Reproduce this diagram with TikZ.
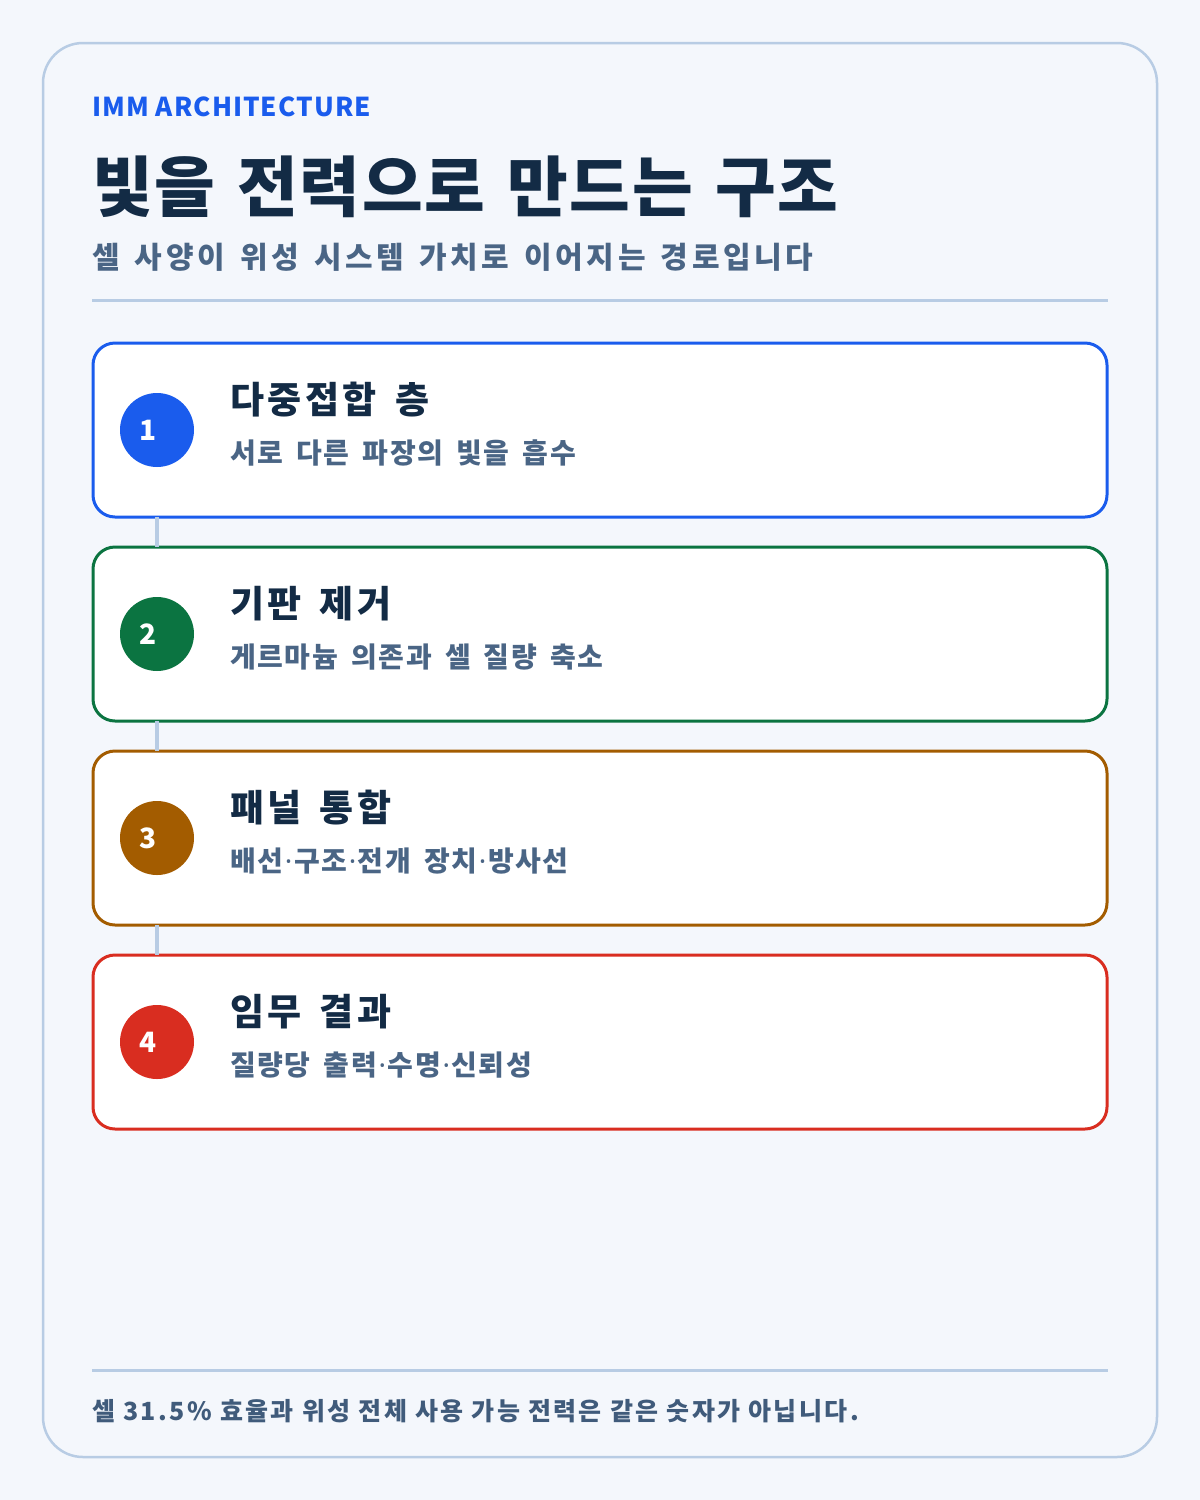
\documentclass[tikz,border=0pt]{standalone}
\usepackage{fontspec}
\setmainfont{Noto Sans CJK KR}
\newfontfamily\kr{Noto Sans CJK KR}
\newfontfamily\lat{Noto Sans}
\newcommand\mdot{\kern1.6pt{\lat\bfseries ·}\kern1.6pt}
\newcommand\fkicker{\kr\bfseries\fontsize{26}{30}\selectfont\addfontfeature{LetterSpace=4}}
\newcommand\ftitle{\kr\bfseries\fontsize{66}{76}\selectfont\addfontfeature{LetterSpace=2.3}\spaceskip=22.6pt\relax}
\newcommand\fsubtitle{\kr\bfseries\fontsize{30}{36}\selectfont\addfontfeature{LetterSpace=12}\spaceskip=15.2pt\relax}
\newcommand\fcardtitle{\kr\bfseries\fontsize{37}{44}\selectfont\addfontfeature{LetterSpace=9.6}\spaceskip=18pt\relax}
\newcommand\fcardsub{\kr\bfseries\fontsize{28}{34}\selectfont\addfontfeature{LetterSpace=5.8}\spaceskip=13.2pt\relax}
\newcommand\ffoot{\kr\bfseries\fontsize{25}{30}\selectfont\addfontfeature{LetterSpace=9.6}}
\definecolor{bgc}{HTML}{F4F7FC}
\definecolor{framec}{HTML}{B8CCE4}
\definecolor{bluec}{HTML}{1A5CED}
\definecolor{greenc}{HTML}{0B7441}
\definecolor{amberc}{HTML}{A35C00}
\definecolor{redc}{HTML}{D92D20}
\definecolor{inkc}{HTML}{132B45}
\definecolor{subc}{HTML}{4A6585}
\definecolor{footc}{HTML}{405B7B}
\tikzset{
  cardbox/.style={draw=#1, line width=3pt, fill=white, rounded corners=22pt},
  numdot/.style={circle, fill=#1, minimum size=74pt, inner sep=0pt},
  numtxt/.style={inner sep=0pt, text=white, font=\kr\bfseries\fontsize{28}{32}\selectfont},
  cardtitle/.style={anchor=west, inner sep=0pt, text=inkc, font=\fcardtitle},
  cardsub/.style={anchor=west, inner sep=0pt, text=subc, font=\fcardsub},
  linkline/.style={draw=framec, line width=4pt},
  rulec/.style={draw=framec, line width=3pt}
}
\begin{document}
\begin{tikzpicture}[x=1pt,y=-1pt]
\useasboundingbox (0,0) rectangle (1200,1500);
\fill[bgc] (0,0) rectangle (1200,1500);
\draw[framec, line width=2.5pt, rounded corners=40pt, fill=bgc] (43,43) rectangle (1157,1457);
\node[anchor=west, inner sep=0pt, text=bluec, font=\fkicker] (kicker) at (92,107) {IMM ARCHITECTURE};
\node[anchor=west, inner sep=0pt, text=inkc, font=\ftitle] (title) at (92,187) {빛을 전력으로 만드는 구조};
\node[anchor=west, inner sep=0pt, text=subc, font=\fsubtitle] (subtitle) at (92,257) {셀 사양이 위성 시스템 가치로 이어지는 경로입니다};
\coordinate (r1a) at (92,300); \coordinate (r1b) at (1108,300);
\draw[rulec] (r1a) -- (r1b);
% cards
\foreach \i/\top/\col/\ttl/\sub in {
 1/343/bluec/{다중접합 층}/{서로 다른 파장의 빛을 흡수},
 2/547/greenc/{기판 제거}/{게르마늄 의존과 셀 질량 축소},
 3/751/amberc/{패널 통합}/{배선\mdot 구조\mdot 전개 장치\mdot 방사선},
 4/955/redc/{임무 결과}/{질량당 출력\mdot 수명\mdot 신뢰성}}{
  \path[cardbox=\col] (93,\top) rectangle (1107,\top+174);
  \node[numdot=\col] (n\i) at (157,\top+87) {};
  \node[numtxt] (d\i) at (148,\top+87) {\i};
  \node[cardtitle] (t\i) at (230,\top+57) {\ttl};
  \node[cardsub] (s\i) at (230,\top+110) {\sub};
  \coordinate (cb\i) at (157,\top+174);
  \coordinate (ct\i) at (157,\top);
}
\draw[linkline] (cb1) -- (ct2);
\draw[linkline] (cb2) -- (ct3);
\draw[linkline] (cb3) -- (ct4);
\coordinate (r2a) at (92,1370); \coordinate (r2b) at (1108,1370);
\draw[rulec] (r2a) -- (r2b);
\node[anchor=west, inner sep=0pt, text=footc, font=\ffoot] (foot) at (92,1411) {셀 31.5\% 효율과 위성 전체 사용 가능 전력은 같은 숫자가 아닙니다.};
\end{tikzpicture}
\end{document}
